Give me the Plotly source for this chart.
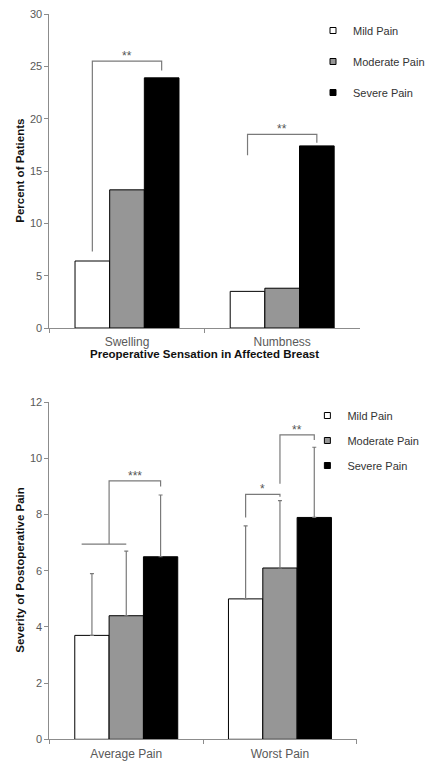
import plotly.graph_objects as go

# ---------------- data ----------------
series_names = ["Mild Pain", "Moderate Pain", "Severe Pain"]
series_fill = ["#ffffff", "#969696", "#000000"]

top_categories = ["Swelling", "Numbness"]
top_mild = [6.4, 3.5]
top_moderate = [13.2, 3.8]
top_severe = [23.9, 17.4]

bot_categories = ["Average Pain", "Worst Pain"]
bot_mild = [3.7, 5.0]
bot_moderate = [4.4, 6.1]
bot_severe = [6.5, 7.9]
bot_mild_err = [2.2, 2.6]
bot_moderate_err = [2.3, 2.4]
bot_severe_err = [2.2, 2.5]

top_ticks = [0, 5, 10, 15, 20, 25, 30]
bot_ticks = [0, 2, 4, 6, 8, 10, 12]

# significance brackets: (category index, x-from, x-to (bar-slot units), y-left-start, y-top, y-right-end, label)
top_brackets = [
    (0, -1, 1, 7.3, 25.5, 24.6, "**"),
    (1, -1, 1, 16.5, 18.5, 17.7, "**"),
]
bot_brackets = [
    (0, -0.5, 1, 6.95, 9.2, 9.0, "***"),
    (1, -1, 0, 7.9, 8.72, 8.64, "*"),
    (1, 0, 1, 9.1, 10.84, 10.66, "**"),
]
# the short horizontal line under the *** bracket (spans Mild+Moderate)
bot_group_line = (0, -1.3, 0, 6.95)

BARGAP = 0.33
SLOT = (1 - BARGAP) / 3

GRAY_AX = "#8c8c8c"
GRAY_TXT = "#595959"
FONT = "Liberation Sans, Arial, sans-serif"

fig = go.Figure()

top_vals = [top_mild, top_moderate, top_severe]
bot_vals = [bot_mild, bot_moderate, bot_severe]
bot_errs = [bot_mild_err, bot_moderate_err, bot_severe_err]

for i, name in enumerate(series_names):
    fig.add_trace(go.Bar(
        x=top_categories, y=top_vals[i], name=name, showlegend=False,
        marker=dict(color=series_fill[i], line=dict(color="#000000", width=1)),
        xaxis="x", yaxis="y"))
for i, name in enumerate(series_names):
    fig.add_trace(go.Bar(
        x=bot_categories, y=bot_vals[i], name=name, showlegend=False,
        marker=dict(color=series_fill[i], line=dict(color="#000000", width=1)),
        error_y=dict(type="data", array=bot_errs[i], arrayminus=[0, 0], symmetric=False,
                     color="#7a7a7a", thickness=1.2, width=2),
        xaxis="x2", yaxis="y2"))

# legend entries (small square markers)
for lg, (xa, ya) in zip(["legend", "legend2"], [("x", "y"), ("x2", "y2")]):
    for i, name in enumerate(series_names):
        fig.add_trace(go.Scatter(
            x=[None], y=[None], mode="markers", name=name, legend=lg,
            legendgroup=lg + name,
            marker=dict(symbol="square", size=6, color=series_fill[i],
                        line=dict(color="#000000", width=1)),
            xaxis=xa, yaxis=ya))

line_style = dict(color="#7a7a7a", width=1.2)

def add_brackets(brackets, xref, yref):
    for cat, s0, s1, yl, yt, yr, label in brackets:
        x0 = cat + s0 * SLOT
        x1 = cat + s1 * SLOT
        fig.add_shape(type="path",
                      path=f"M {x0},{yl} L {x0},{yt} L {x1},{yt} L {x1},{yr}",
                      xref=xref, yref=yref, line=line_style)
        fig.add_annotation(x=(x0 + x1) / 2, y=yt, xref=xref, yref=yref, text=label,
                           showarrow=False, yanchor="bottom", yshift=-4,
                           font=dict(family=FONT, size=12, color="#555555"))

add_brackets(top_brackets, "x", "y")
add_brackets(bot_brackets, "x2", "y2")
c, s0, s1, yy = bot_group_line
fig.add_shape(type="line", x0=c + s0 * SLOT, x1=c + s1 * SLOT, y0=yy, y1=yy,
              xref="x2", yref="y2", line=line_style)

W, H = 430, 764
axis_common = dict(showline=True, linecolor=GRAY_AX, linewidth=1, ticks="outside",
                   tickcolor=GRAY_AX, ticklen=4, showgrid=False, zeroline=False,
                   automargin=False)
yfont = dict(family=FONT, size=11, color=GRAY_TXT)
xfont = dict(family=FONT, size=12, color=GRAY_TXT)

fig.update_layout(
    width=W, height=H, margin=dict(l=0, r=0, t=0, b=0),
    paper_bgcolor="white", plot_bgcolor="white",
    barmode="group", bargap=BARGAP, bargroupgap=0,
    xaxis=dict(domain=[50 / W, 364 / W], anchor="y", type="category",
               tickson="boundaries", range=[-0.5, 1.5], tickfont=xfont,
               ticklabelstandoff=3, **axis_common),
    yaxis=dict(domain=[1 - 328 / H, 1 - 14 / H], anchor="x", range=[0, 30],
               tickvals=top_ticks, tickfont=yfont, **axis_common),
    xaxis2=dict(domain=[50 / W, 361 / W], anchor="y2", type="category",
                tickson="boundaries", range=[-0.5, 1.5], tickfont=xfont,
                ticklabelstandoff=3, **axis_common),
    yaxis2=dict(domain=[1 - 739.3 / H, 1 - 402.3 / H], anchor="x2", range=[0, 12],
                tickvals=bot_ticks, tickfont=yfont, **axis_common),
    legend=dict(x=317 / W, y=1 - 16 / H, xanchor="left", yanchor="top",
                traceorder="grouped", tracegroupgap=12, bgcolor="rgba(0,0,0,0)",
                font=dict(family=FONT, size=11, color="#333333"), itemwidth=30),
    legend2=dict(x=311 / W, y=1 - 401 / H, xanchor="left", yanchor="top",
                 traceorder="grouped", tracegroupgap=6, bgcolor="rgba(0,0,0,0)",
                 font=dict(family=FONT, size=11, color="#333333"), itemwidth=30),
)

title_font = dict(family=FONT, size=11.5, color="#111111")
fig.add_annotation(text="<b>Percent of Patients</b>", x=20 / W, y=1 - 171 / H,
                   xref="paper", yref="paper", textangle=-90, showarrow=False,
                   xanchor="center", yanchor="middle", font=title_font)
fig.add_annotation(text="<b>Preoperative Sensation in Affected Breast</b>", x=207 / W,
                   y=1 - 354 / H, xref="paper", yref="paper", showarrow=False,
                   xanchor="center", yanchor="middle", font=title_font)
fig.add_annotation(text="<b>Severity of Postoperative Pain</b>", x=20 / W, y=1 - 570 / H,
                   xref="paper", yref="paper", textangle=-90, showarrow=False,
                   xanchor="center", yanchor="middle", font=title_font)

fig.write_html("out.html", config={"displayModeBar": False},
               post_script="document.body.style.margin='0px';document.body.style.overflow='hidden';")
